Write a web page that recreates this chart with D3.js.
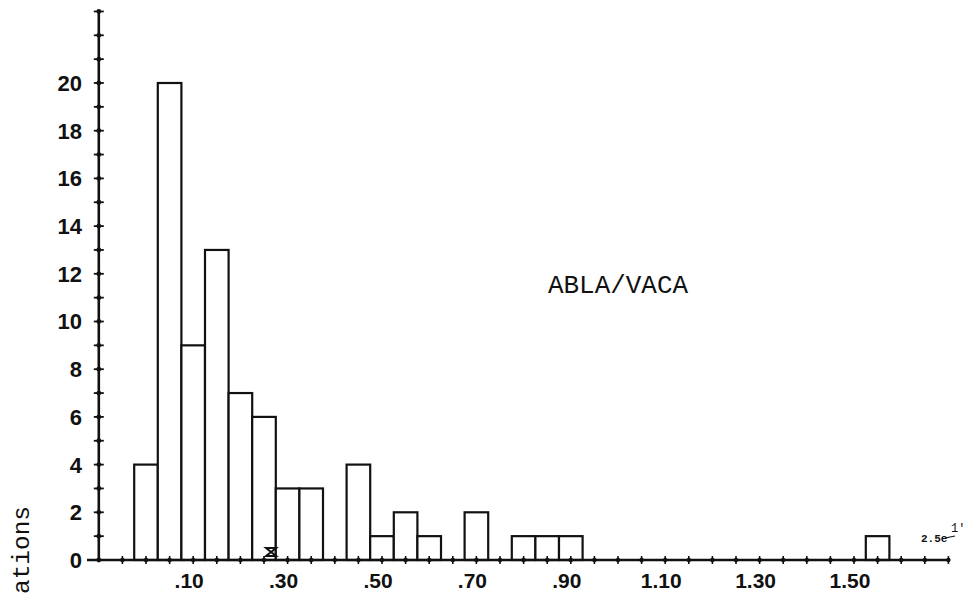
<!DOCTYPE html>
<html><head><meta charset="utf-8">
<script src="https://cdn.jsdelivr.net/npm/d3@7"></script>
<style>body{margin:0;background:#fff}svg{display:block}</style>
</head><body>
<svg id="c" width="967" height="596"></svg>
<script>
// Data (bin centers, bin width 0.05)
const binCenters = [0.00,0.05,0.10,0.15,0.20,0.25,0.30,0.35,0.45,0.50,0.55,0.60,0.70,0.80,0.85,0.90,1.55];
const binCounts  = [4,   20,  9,   13,  7,   6,   3,   3,   4,   1,   2,   1,   2,   1,   1,   1,   1];
const binWidth = 0.05;
const xTickLabels = [".10",".30",".50",".70",".90","1.10","1.30","1.50"];
const xTickLabelValues = [0.10,0.30,0.50,0.70,0.90,1.10,1.30,1.50];
const yTickLabels = ["0","2","4","6","8","10","12","14","16","18","20"];
const yTickLabelValues = [0,2,4,6,8,10,12,14,16,18,20];
const title = "ABLA/VACA";
const yTitle = "ations";
const meanMarker = 0.265;

const svg = d3.select("#c");
const x = d3.scaleLinear().domain([0, 1.5]).range([146, 854]);
const y = d3.scaleLinear().domain([0, 20]).range([560, 83]);
const yAxisX = x(-0.10);
const ink = "#111";

// bars
svg.append("g").selectAll("rect").data(binCenters).join("rect")
  .attr("x", d => x(d - binWidth/2))
  .attr("width", d => x(d + binWidth/2) - x(d - binWidth/2))
  .attr("y", (d,i) => y(binCounts[i]))
  .attr("height", (d,i) => y(0) - y(binCounts[i]))
  .attr("fill", "#fff").attr("stroke", ink).attr("stroke-width", 2.2);

// x axis line
svg.append("line").attr("x1", x(-0.125)).attr("x2", x(1.70))
  .attr("y1", y(0)).attr("y2", y(0)).attr("stroke", ink).attr("stroke-width", 2.4);
// y axis line
svg.append("line").attr("x1", yAxisX).attr("x2", yAxisX)
  .attr("y1", y(0)).attr("y2", y(23)).attr("stroke", ink).attr("stroke-width", 2.6);

// x ticks every 0.05
const xt = d3.range(-0.05, 1.7001, 0.05);
const gx = svg.append("g");
gx.selectAll("line").data(xt).join("line")
  .attr("x1", d => x(d)).attr("x2", d => x(d))
  .attr("y1", y(0) - 4).attr("y2", y(0) + 4)
  .attr("stroke", ink).attr("stroke-width", 1.6);
gx.selectAll("circle").data(xt).join("circle")
  .attr("cx", d => x(d)).attr("cy", y(0)).attr("r", 2.2).attr("fill", ink);
svg.append("g").selectAll("text").data(xTickLabelValues).join("text")
  .attr("x", d => x(d) - 4).attr("y", 588)
  .attr("text-anchor", "middle")
  .attr("font-family", "Liberation Sans, Arial, sans-serif")
  .attr("font-weight", "bold").attr("font-size", 21).attr("fill", ink)
  .text((d,i) => xTickLabels[i]);

// y ticks every 1
const yt = d3.range(0, 24, 1);
const gy = svg.append("g");
gy.selectAll("line").data(yt).join("line")
  .attr("x1", yAxisX - 5).attr("x2", yAxisX + 5)
  .attr("y1", d => y(d)).attr("y2", d => y(d))
  .attr("stroke", ink).attr("stroke-width", 1.8);
gy.selectAll("circle").data(yt).join("circle")
  .attr("cx", yAxisX).attr("cy", d => y(d)).attr("r", 2.4).attr("fill", ink);
svg.append("g").selectAll("text").data(yTickLabelValues).join("text")
  .attr("x", 82).attr("y", d => y(d)).attr("dy", "0.36em")
  .attr("text-anchor", "end")
  .attr("font-family", "Liberation Sans, Arial, sans-serif")
  .attr("font-weight", "bold").attr("font-size", 22).attr("fill", ink)
  .text((d,i) => yTickLabels[i]);

// title
svg.append("text").attr("x", 548).attr("y", 293)
  .attr("font-family", "Liberation Mono, monospace")
  .attr("font-size", 25).attr("fill", ink)
  .attr("textLength", 140).attr("lengthAdjust", "spacingAndGlyphs")
  .text(title);

// y title (only its end is visible in the reference)
svg.append("text")
  .attr("transform", "translate(29,594) rotate(-90)")
  .attr("text-anchor", "start")
  .attr("font-family", "Liberation Mono, monospace")
  .attr("font-size", 24).attr("fill", ink)
  .attr("textLength", 88).attr("lengthAdjust", "spacingAndGlyphs")
  .text(yTitle);

// small mean marker
const mx = x(meanMarker), my = y(0) - 8;
svg.append("path")
  .attr("d", `M${mx-5},${my-4}L${mx+5},${my-4}L${mx-5},${my+4}L${mx+5},${my+4}Z`)
  .attr("fill", "none").attr("stroke", ink).attr("stroke-width", 2);

// scale annotation
svg.append("text").attr("x", 921).attr("y", 542)
  .attr("font-family", "Liberation Mono, monospace").attr("font-size", 11)
  .attr("font-weight", "bold").attr("fill", ink).text("2.5e");
svg.append("text").attr("x", 951).attr("y", 532)
  .attr("font-family", "Liberation Mono, monospace").attr("font-size", 12)
  .attr("fill", ink).text("1'");
svg.append("line").attr("x1", 945).attr("x2", 955).attr("y1", 538).attr("y2", 536)
  .attr("stroke", ink).attr("stroke-width", 1.2);
</script>
</body></html>
